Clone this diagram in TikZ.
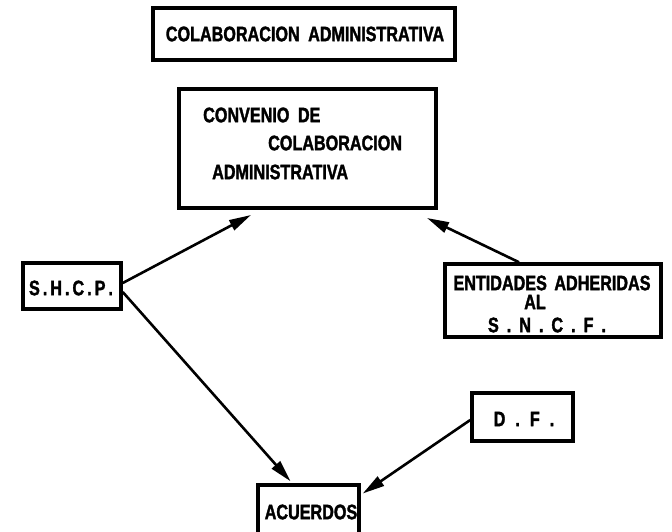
\documentclass[tikz,border=0pt]{standalone}
\usepackage{fontspec}
\setmainfont{Liberation Sans}[FakeStretch=0.77,FakeBold=1.6]
\usetikzlibrary{arrows.meta}
\newcommand{\gp}[1]{\hspace{#1pt}}
\begin{document}
\begin{tikzpicture}[x=1pt,y=-1pt,
  box/.style={draw, line width=3.5pt, rectangle, inner sep=0pt},
  lbl/.style={inner sep=0pt, font=\fontsize{21}{23}\selectfont\bfseries},
  arr/.style={line width=2.6pt, -{Triangle[length=22pt,width=11pt]}}]
\fill[white] (0,0) rectangle (672,531);
\useasboundingbox (0,0) rectangle (672,531);

% boxes
\node[box, minimum width=302pt, minimum height=52pt] (title) at (304,34) {};
\node[box, minimum width=257pt, minimum height=119pt] (conv) at (307.5,148.5) {};
\node[box, minimum width=98pt, minimum height=46pt] (shcp) at (72,286) {};
\node[box, minimum width=216pt, minimum height=73pt] (ent) at (553,300.5) {};
\node[box, minimum width=101pt, minimum height=48pt] (df) at (522.5,417) {};
\node[box, minimum width=101pt, minimum height=51pt] (acu) at (308.5,510.5) {};

% texts
\node[lbl] (ttitle) at (305,34) {COLABORACION\gp{4} ADMINISTRATIVA};
\node[lbl, anchor=west] (c1) at (203,115) {CONVENIO\gp{4} DE};
\node[lbl, anchor=west] (c2) at (268,143) {COLABORACION};
\node[lbl, anchor=west] (c3) at (212,172) {ADMINISTRATIVA};
\node[lbl] (tshcp) at (71,288) {S\gp{3}.\gp{3}H\gp{3}.\gp{3}C\gp{3}.\gp{3}P\gp{3}.};
\node[lbl] (e1) at (552,283) {ENTIDADES\gp{3} ADHERIDAS};
\node[lbl] (e2) at (535,302) {AL};
\node[lbl] (e3) at (547,325) {S\gp{8}.\gp{8}N\gp{8}.\gp{8}C\gp{8}.\gp{8}F\gp{8}.};
\node[lbl] (tdf) at (524,419) {D\gp{10}.\gp{10}F\gp{10}.};
\node[lbl] (tacu) at (311,512) {ACUERDOS};

% arrow tips below the convenio box
\coordinate (tipA) at (251,215);
\coordinate (tipB) at (427,218);

% connectors
\draw[arr] ([yshift=3pt]shcp.east) -- (tipA);
\draw[arr] ([xshift=-34pt]ent.north) -- (tipB);
\draw[arr] ([yshift=-6pt]shcp.east) -- ([xshift=-18pt,yshift=2pt]acu.north);
\draw[arr] ([yshift=-3pt]df.west) -- ([xshift=2pt,yshift=17pt]acu.east);
\end{tikzpicture}
\end{document}
